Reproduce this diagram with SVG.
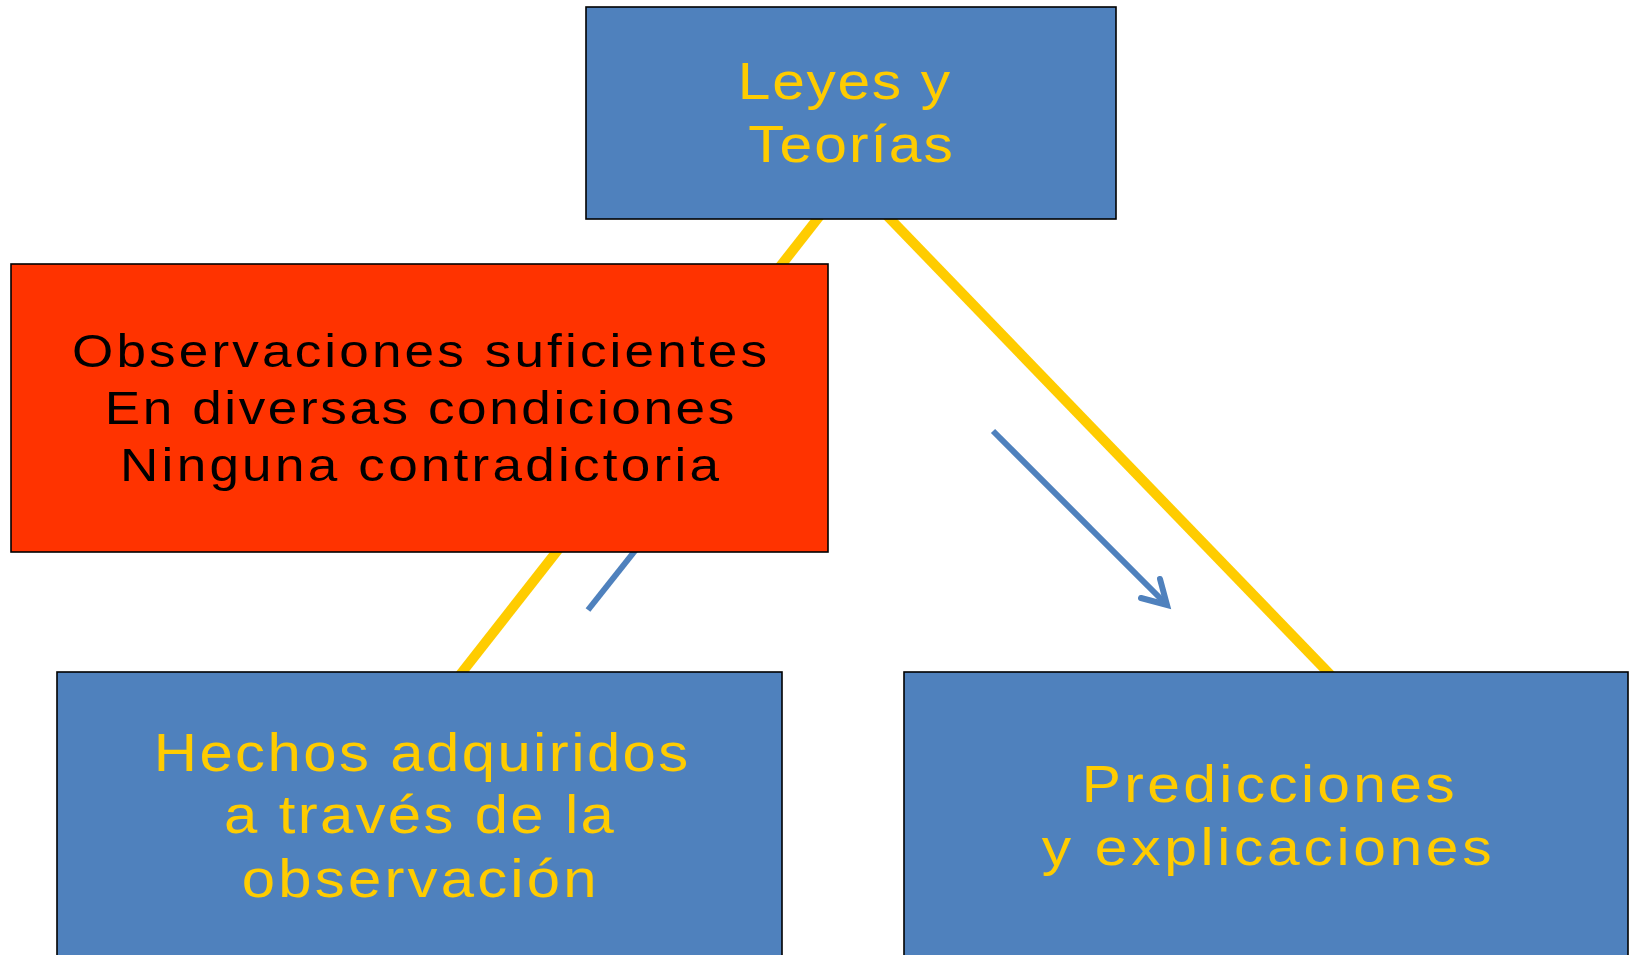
<svg xmlns="http://www.w3.org/2000/svg" width="1629" height="955" viewBox="0 0 1629 955">
<style>
.box{fill:#4F81BD;stroke:#000;stroke-width:1.6}
.red{fill:#FF3300;stroke:#000;stroke-width:1.6}
.t{font-family:"Liberation Sans",Arial,sans-serif;text-anchor:middle;fill:#FFCC00}
.k{font-family:"Liberation Sans",Arial,sans-serif;text-anchor:middle;fill:#000}
.y{stroke:#FFCC00;stroke-width:10;fill:none}
.b{stroke:#4F81BD;stroke-width:6;fill:none}
</style>
<rect width="1629" height="955" fill="#fff"/>
<g id="connectors">
<line class="y" x1="833" y1="199" x2="445" y2="694"/>
<line class="y" x1="871" y1="199" x2="1347" y2="692"/>
<line class="b" x1="680" y1="494" x2="588" y2="610"/>
<line class="b" x1="993" y1="431" x2="1165" y2="603"/>
<path class="b" d="M1141,598 L1167,605 L1160,579" stroke-linecap="round" stroke-linejoin="miter"/>
</g>
<g id="leyes">
<rect class="box" x="586" y="7" width="530" height="212"/>
<text class="t" font-size="52" transform="translate(844 0) scale(1.13 1)" x="0" y="99.5" textLength="188" lengthAdjust="spacing">Leyes y</text>
<text class="t" font-size="52" transform="translate(850.5 0) scale(1.13 1)" x="0" y="162" textLength="181" lengthAdjust="spacing">Teorías</text>
</g>
<g id="observaciones">
<rect class="red" x="11" y="264" width="817" height="288"/>
<text class="k" font-size="47" transform="translate(419.5 0) scale(1.13 1)" x="0" y="367" textLength="615" lengthAdjust="spacing">Observaciones suficientes</text>
<text class="k" font-size="47" transform="translate(419.5 0) scale(1.13 1)" x="0" y="424" textLength="557" lengthAdjust="spacing">En diversas condiciones</text>
<text class="k" font-size="47" transform="translate(419.5 0) scale(1.13 1)" x="0" y="481.5" textLength="530" lengthAdjust="spacing">Ninguna contradictoria</text>
</g>
<g id="hechos">
<rect class="box" x="57" y="672" width="725" height="300"/>
<text class="t" font-size="53" transform="translate(421 0) scale(1.13 1)" x="0" y="771" textLength="473" lengthAdjust="spacing">Hechos adquiridos</text>
<text class="t" font-size="53" transform="translate(419 0) scale(1.13 1)" x="0" y="833.5" textLength="345" lengthAdjust="spacing">a través de la</text>
<text class="t" font-size="53" transform="translate(419.2 0) scale(1.13 1)" x="0" y="897" textLength="314" lengthAdjust="spacing">observación</text>
</g>
<g id="predicciones">
<rect class="box" x="904" y="672" width="724" height="300"/>
<text class="t" font-size="52" transform="translate(1268.3 0) scale(1.13 1)" x="0" y="801.7" textLength="330" lengthAdjust="spacing">Predicciones</text>
<text class="t" font-size="52" transform="translate(1266.7 0) scale(1.13 1)" x="0" y="865" textLength="398" lengthAdjust="spacing">y explicaciones</text>
</g>
</svg>
